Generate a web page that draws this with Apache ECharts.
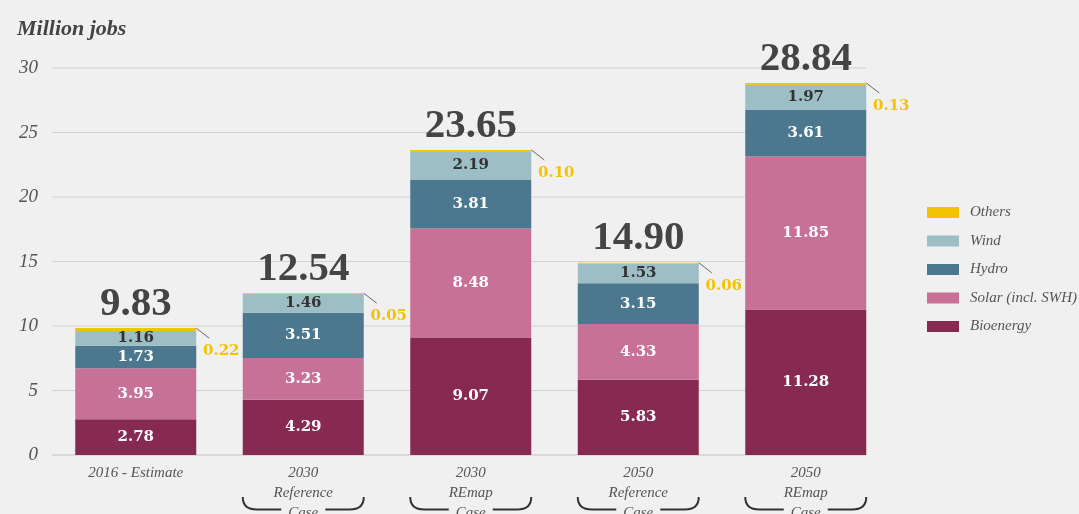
<!DOCTYPE html>
<html>
<head>
<meta charset="utf-8">
<script src="https://cdn.jsdelivr.net/npm/echarts@6/dist/echarts.min.js"></script>
<style>
  html, body { margin: 0; padding: 0; background: #f0f0f0; }
  #chart { width: 1079px; height: 514px; }
</style>
</head>
<body>
<div id="chart"></div>
<script>
// Renewable energy jobs by technology (million jobs)
const categories = ['2016 - Estimate', '2030\nReference\nCase', '2030\nREmap\nCase', '2050\nReference\nCase', '2050\nREmap\nCase'];
const bioenergy = [2.78, 4.29, 9.07, 5.83, 11.28];
const solar = [3.95, 3.23, 8.48, 4.33, 11.85];
const hydro = [1.73, 3.51, 3.81, 3.15, 3.61];
const wind = [1.16, 1.46, 2.19, 1.53, 1.97];
const others = [0.22, 0.05, 0.10, 0.06, 0.13];
const totals = [9.83, 12.54, 23.65, 14.90, 28.84];
const yTicks = [0, 5, 10, 15, 20, 25, 30];

const BAR_W = 121;
const SERIF = '"Liberation Serif", "DejaVu Serif", serif';
const SEG_FONT = '"DejaVu Serif", serif';
const COLORS = {
  bio: '#872a51',
  solar: '#c77196',
  hydro: '#4b788e',
  wind: '#9dbec4',
  others: '#f2c300'
};

const chart = echarts.init(document.getElementById('chart'), null, { renderer: 'canvas' });

function segLabel(color) {
  return {
    show: true,
    position: 'inside',
    color: color,
    fontFamily: SEG_FONT,
    fontWeight: 'bold',
    fontSize: 15,
    formatter: p => p.value.toFixed(2)
  };
}

function stackSeries(name, data, color, labelColor) {
  return {
    name: name,
    type: 'bar',
    stack: 'jobs',
    barWidth: BAR_W,
    data: data,
    itemStyle: { color: color },
    label: labelColor ? segLabel(labelColor) : { show: false },
    emphasis: { disabled: true },
    z: 3
  };
}

// horizontal reference lines, stopping at the right edge of the last bar
function renderGridLine(params, api) {
  const v = api.value(1);
  const p = api.coord([0, v]);
  const xEnd = api.coord([categories.length - 1, v])[0] + BAR_W / 2;
  const isBase = v === 0;
  return {
    type: 'line',
    shape: { x1: params.coordSys.x, y1: p[1], x2: xEnd, y2: p[1] },
    style: { stroke: isBase ? '#dadada' : '#d2d2d2', lineWidth: isBase ? 2 : 1 }
  };
}

// total above each bar, "Others" callout, and bracket under scenario names
function renderAnnotations(params, api) {
  const i = api.value(0);
  const total = api.value(1);
  const oth = api.value(2);
  const top = api.coord([i, total]);
  const base = api.coord([i, 0]);
  const left = top[0] - BAR_W / 2;
  const right = top[0] + BAR_W / 2;
  const children = [
    {
      type: 'text',
      style: {
        text: total.toFixed(2),
        x: top[0], y: top[1] - 24,
        textAlign: 'center', textVerticalAlign: 'middle',
        align: 'center', verticalAlign: 'middle',
        font: 'bold 41px ' + SERIF,
        fill: '#444'
      }
    },
    {
      type: 'line',
      shape: { x1: right, y1: top[1], x2: right + 13, y2: top[1] + 10 },
      style: { stroke: '#666', lineWidth: 1 }
    },
    {
      type: 'text',
      style: {
        text: oth.toFixed(2),
        x: right + 25, y: top[1] + 23,
        textAlign: 'center', textVerticalAlign: 'middle',
        align: 'center', verticalAlign: 'middle',
        font: 'bold 15px ' + SEG_FONT,
        fill: COLORS.others
      }
    }
  ];
  if (categories[i].split('\n').length > 2) {
    const yB = base[1] + 54.5;
    const yT = base[1] + 42;
    const gapL = top[0] - 22;
    const gapR = top[0] + 22;
    children.push({
      type: 'path',
      shape: {
        pathData: 'M' + left + ' ' + yT + ' Q' + left + ' ' + yB + ' ' + (left + 14) + ' ' + yB +
          ' L' + gapL + ' ' + yB +
          ' M' + gapR + ' ' + yB + ' L' + (right - 14) + ' ' + yB +
          ' Q' + right + ' ' + yB + ' ' + right + ' ' + yT
      },
      style: { stroke: '#333', lineWidth: 2, fill: null }
    });
  }
  return { type: 'group', children: children };
}

const option = {
  backgroundColor: '#f0f0f0',
  animation: false,
  title: {
    text: 'Million jobs',
    left: 12,
    top: 13,
    textStyle: {
      fontFamily: SERIF,
      fontStyle: 'italic',
      fontWeight: 'bold',
      fontSize: 22,
      color: '#444'
    }
  },
  legend: {
    orient: 'vertical',
    left: 922,
    top: 200,
    itemWidth: 32,
    itemHeight: 11,
    itemGap: 13.5,
    icon: 'rect',
    selectedMode: false,
    data: ['Others', 'Wind', 'Hydro', 'Solar (incl. SWH)', 'Bioenergy'],
    textStyle: {
      fontFamily: SERIF,
      fontStyle: 'italic',
      fontSize: 15,
      color: '#555',
      padding: [0, 0, 0, 6]
    }
  },
  grid: { left: 52, top: 68, width: 837.5, bottom: 59, outerBoundsMode: 'none' },
  xAxis: {
    type: 'category',
    data: categories,
    axisLine: { show: false },
    axisTick: { show: false },
    axisLabel: {
      margin: 8,
      fontFamily: SERIF,
      fontStyle: 'italic',
      fontSize: 15,
      lineHeight: 20,
      color: '#555'
    }
  },
  yAxis: {
    type: 'value',
    min: 0,
    max: 30,
    interval: 5,
    axisLine: { show: false },
    axisTick: { show: false },
    splitLine: { show: false },
    axisLabel: {
      margin: 14,
      fontFamily: SERIF,
      fontStyle: 'italic',
      fontSize: 19,
      color: '#555',
      formatter: v => (yTicks.indexOf(v) >= 0 ? String(v) : '')
    }
  },
  series: [
    {
      type: 'custom',
      name: 'gridlines',
      renderItem: renderGridLine,
      data: yTicks.map(v => [0, v]),
      encode: { x: 0, y: 1 },
      silent: true,
      z: 1
    },
    stackSeries('Bioenergy', bioenergy, COLORS.bio, '#ffffff'),
    stackSeries('Solar (incl. SWH)', solar, COLORS.solar, '#ffffff'),
    stackSeries('Hydro', hydro, COLORS.hydro, '#ffffff'),
    stackSeries('Wind', wind, COLORS.wind, '#333333'),
    stackSeries('Others', others, COLORS.others, null),
    {
      type: 'custom',
      name: 'annotations',
      renderItem: renderAnnotations,
      data: categories.map((c, i) => [i, totals[i], others[i]]),
      encode: { x: 0, y: 1 },
      clip: false,
      silent: true,
      z: 5
    }
  ]
};

chart.setOption(option);
</script>
</body>
</html>
